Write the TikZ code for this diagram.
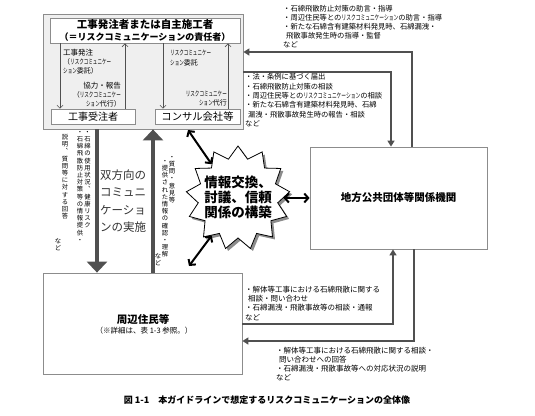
\documentclass[tikz,border=0pt]{standalone}
\usepackage{fontspec}
\setmainfont{Noto Sans CJK JP}
\usepackage{graphicx}
\usetikzlibrary{arrows.meta,shapes.geometric,shadows}
\definecolor{lineg}{HTML}{505050}
\definecolor{boxg}{HTML}{8C8C8C}
\definecolor{fillg}{HTML}{EFEFEF}
\newcommand\fs[2]{\fontsize{#1}{#2}\selectfont}
\newcommand\nk[1]{\scalebox{0.65}[1]{#1}}
\newcommand\tatetext[1]{\vbox{\baselineskip=7.2pt\lineskiplimit=-\maxdimen\lineskip=0pt\tateloop#1\relax}}
\def\tateloop#1{\ifx\relax#1\else\hbox to 6.5pt{\hss#1\hss}\expandafter\tateloop\fi}
\tikzset{
  box/.style={draw=boxg, line width=0.8pt, fill=white, inner sep=0pt},
  ta/.style={draw=lineg, line width=0.6pt, -{Straight Barb[length=3pt,width=6pt]}},
  conn/.style={draw=lineg, line width=1.5pt, -{Triangle[length=6pt,width=7pt]}},
  bigarrow/.style={draw=lineg, line width=4.5pt, -{Triangle[length=11pt,width=20pt]}},
  dbl/.style={draw=black, line width=2pt, {Straight Barb[length=4pt,width=9pt]}-{Straight Barb[length=4pt,width=9pt]}},
  note/.style={font=\fs{7.3}{8.8}, inner sep=0pt, align=left},
  lab/.style={font=\fs{7}{9}, inner sep=0pt},
  vnote/.style={font=\fs{6.3}{7.2}, inner sep=0pt, anchor=north},
}
\begin{document}
\begin{tikzpicture}[x=1pt,y=-1pt]
\useasboundingbox (0,0) rectangle (535,415);
\fill[white] (0,0) rectangle (535,415);

% top-left group
\node[box, fill=fillg, minimum width=200pt, minimum height=115pt] (outer) at (143,71.5) {};
\node[box, minimum width=190pt, minimum height=25pt, align=center] (title) at (145,30.5)
  {{\bfseries\fs{10.5}{12.5}工事発注者または自主施工者}\\{\bfseries\fs{9}{11}（＝リスクコミュニケーションの責任者）}};
\node[box, minimum width=84pt, minimum height=15pt, font=\fs{10}{12}] (juchu) at (93,116.5) {工事受注者};
\node[box, minimum width=85pt, minimum height=15pt, font=\fs{10.3}{12}] (consul) at (197.5,116.5) {コンサル会社等};

\coordinate (t1) at (60,0);
\coordinate (t2) at (125,0);
\coordinate (t3) at (163,0);
\coordinate (t4) at (228,0);
\draw[ta] (title.south -| t1) -- (juchu.north -| t1);
\draw[ta] (juchu.north -| t2) -- (title.south -| t2);
\draw[ta] (title.south -| t3) -- (consul.north -| t3);
\draw[ta] (consul.north -| t4) -- (title.south -| t4);

\node[lab, align=left, anchor=north west] (lab1) at (63,48.5)
  {{\fs{7.5}{9}工事発注}\\（\nk{リスクコミュニケー}\\\nk{ション}委託）};
\node[lab, align=right, anchor=north east] (lab2) at (121,81.5)
  {{\fs{7.5}{9}協力・報告}\\（\nk{リスクコミュニケー}\\\nk{ション}代行）};
\node[lab, align=left, anchor=north west, font=\fs{7}{10}] (lab3) at (170,49.5)
  {\nk{リスクコミュニケー}\\\nk{ション}委託};
\node[lab, align=right, anchor=north east] (lab4) at (227,90.5)
  {\nk{リスクコミュニケー}\\\nk{ション}代行};

% right box
\node[box, minimum width=177pt, minimum height=102pt, font=\bfseries\fs{10.5}{12}] (chiho) at (398.5,198) {地方公共団体等関係機関};

% lower box
\node[box, minimum width=199pt, minimum height=101pt] (jumin) at (142.5,323.5) {};
\node[font=\bfseries\fs{10.5}{12}, inner sep=0pt] (juminname) at (143,319) {周辺住民等};
\node[font=\fs{7.5}{9}, inner sep=0pt] (juminnote) at (144,331) {（※詳細は、表 1-3 参照。）};

% starburst
\node[star, star points=13, star point ratio=1.3, minimum size=104pt, inner sep=0pt,
      draw=black, line width=0.8pt, fill=white,
      drop shadow={shadow xshift=2.5pt, shadow yshift=-2.5pt, opacity=0.45, fill=black}] (burst) at (238,198) {};
\node[font=\bfseries\fs{13.5}{15}, align=center, inner sep=0pt] (burstlabel) at (238,197) {情報交換、\\討議、信頼\\関係の構築};

\coordinate (e1) at (188,130);
\coordinate (e2) at (189,266);
\draw[dbl] (e1) -- (burst.128);
\draw[dbl] (burst.235) -- (e2);
\draw[dbl] (burst.0) -- (chiho.west);

% big arrows
\coordinate (bx1) at (97,0);
\coordinate (bx2) at (153,0);
\draw[bigarrow] (outer.south -| bx1) -- (jumin.north -| bx1);
\draw[bigarrow] (jumin.north -| bx2) -- (outer.south -| bx2);

\node[font=\fs{11.5}{17.3}, text=black!80, align=left, inner sep=0pt] (sohoko) at (123,201)
  {双方向の\\コミュニ\\ケーショ\\ンの実施};

% vertical texts
\node[vnote] (v1) at (87.5,131) {\tatetext{・石綿の使用状況︑健康リスク}};
\node[vnote] (v2) at (80,131) {\tatetext{・石綿飛散防止対策等の情報提供・}};
\node[vnote] (v3) at (65,134) {\tatetext{説明︑質問等に対する回答}};
\node[vnote] (v4) at (58,238) {\tatetext{など}};
\node[vnote] (v5) at (172,156) {\tatetext{・質問・意見等}};
\node[vnote] (v6) at (165,160) {\tatetext{・提供された情報の確認・理解}};
\node[vnote] (v7) at (158,253) {\tatetext{など}};

% connectors
\coordinate (k1) at (412,52);
\coordinate (k2) at (391,72);
\coordinate (k3) at (393,324);
\coordinate (k4) at (414,341);
\draw[conn] (chiho.north -| k1) |- (outer.east |- k1);
\draw[conn] (outer.east |- k2) -| (chiho.north -| k2);
\draw[conn] (jumin.east |- k3) -| (chiho.south -| k3);
\draw[conn] (chiho.south -| k4) |- (jumin.east |- k4);

% text blocks
\node[note, anchor=north west] (tr) at (283,5.5)
  {・石綿飛散防止対策の助言・指導\\
   ・周辺住民等との\nk{リスクコミュニケーション}の助言・指導\\
   ・新たな石綿含有建築材料発見時、石綿漏洩・\\
   \hspace*{0.4em}飛散事故発生時の指導・監督\\
   など};
\node[note, anchor=north west, font=\fs{7.3}{9.3}] (mid) at (245,73.5)
  {・法・条例に基づく届出\\
   ・石綿飛散防止対策の相談\\
   ・周辺住民等との\nk{リスクコミュニケーション}の相談\\
   ・新たな石綿含有建築材料発見時、石綿\\
   \hspace*{0.4em}漏洩・飛散事故発生時の報告・相談\\
   など};
\node[note, anchor=north west, font=\fs{7.5}{9.4}] (lowa) at (245,285.5)
  {・解体等工事における石綿飛散に関する\\
   \hspace*{0.4em}相談・問い合わせ\\
   ・石綿漏洩・飛散事故等の相談・通報\\
   など};
\node[note, anchor=north west, font=\fs{7.5}{9.2}] (lowb) at (276,346.5)
  {・解体等工事における石綿飛散に関する相談・\\
   \hspace*{0.4em}問い合わせへの回答\\
   ・石綿漏洩・飛散事故等への対応状況の説明\\
   など};

\node[font=\bfseries\fs{9}{11}, inner sep=0pt] (caption) at (267,400)
  {図 1-1　本ガイドラインで想定するリスクコミュニケーションの全体像};
\end{tikzpicture}
\end{document}
